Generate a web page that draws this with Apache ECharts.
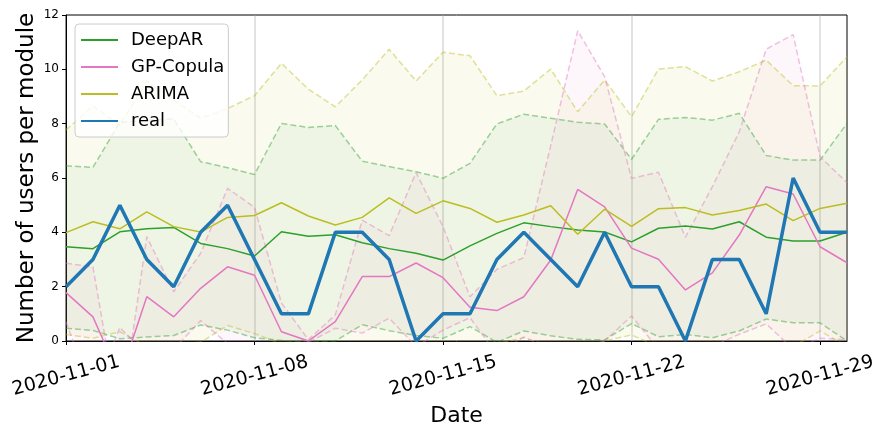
<!DOCTYPE html>
<html>
<head>
<meta charset="utf-8">
<script src="https://cdn.jsdelivr.net/npm/echarts@6/dist/echarts.min.js"></script>
<style>
  html, body { margin: 0; padding: 0; background: #fff; }
  #chart { width: 885px; height: 432px; }
</style>
</head>
<body>
<div id="chart"></div>
<script>
// 日期（x轴类目）
const days = [
  '2020-11-01', '2020-11-02', '2020-11-03', '2020-11-04', '2020-11-05', '2020-11-06',
  '2020-11-07', '2020-11-08', '2020-11-09', '2020-11-10', '2020-11-11', '2020-11-12',
  '2020-11-13', '2020-11-14', '2020-11-15', '2020-11-16', '2020-11-17', '2020-11-18',
  '2020-11-19', '2020-11-20', '2020-11-21', '2020-11-22', '2020-11-23', '2020-11-24',
  '2020-11-25', '2020-11-26', '2020-11-27', '2020-11-28', '2020-11-29', '2020-11-30'
];

// 真实值
const real = [2, 3, 5, 3, 2, 4, 5, 3, 1, 1, 4, 4, 3, 0, 1, 1, 3, 4, 3, 2, 4, 2, 2, 0, 3, 3, 1, 6, 4, 4];

// DeepAR 预测 + 上下界
const deepar = [3.47, 3.40, 4.02, 4.13, 4.18, 3.59, 3.40, 3.13, 4.02, 3.86, 3.91, 3.62, 3.40, 3.23, 2.98,
  3.50, 3.96, 4.35, 4.21, 4.09, 4.01, 3.65, 4.15, 4.23, 4.12, 4.39, 3.82, 3.68, 3.68, 4.00];
const deeparUpper = [6.45, 6.39, 8.05, 8.13, 8.17, 6.60, 6.38, 6.13, 8.01, 7.86, 7.93, 6.62, 6.42, 6.23, 5.99,
  6.54, 7.99, 8.35, 8.20, 8.05, 7.99, 6.69, 8.16, 8.23, 8.13, 8.38, 6.83, 6.66, 6.66, 8.01];
const deeparLower = [0.47, 0.39, 0.08, 0.15, 0.20, 0.59, 0.40, 0.12, 0.02, -0.05, 0.00, 0.60, 0.38, 0.20, 0.10,
  0.53, -0.05, 0.37, 0.19, 0.06, 0.04, 0.64, 0.16, 0.24, 0.12, 0.37, 0.81, 0.67, 0.67, 0.00];

// GP-Copula 预测 + 上下界
const gp = [1.78, 0.89, -1.35, 1.63, 0.89, 1.94, 2.73, 2.42, 0.34, 0.00, 0.71, 2.37, 2.37, 2.87, 2.33,
  1.24, 1.12, 1.63, 2.98, 5.58, 4.94, 3.42, 3.01, 1.88, 2.51, 3.90, 5.68, 5.41, 3.47, 2.88];
const gpUpper = [2.86, 2.73, -3.00, 3.84, 1.81, 3.23, 5.62, 4.92, 1.40, 0.05, 0.96, 4.45, 3.88, 6.20, 4.21,
  1.63, 2.64, 3.07, 7.20, 11.42, 9.73, 5.99, 6.21, 3.82, 5.68, 7.70, 10.74, 11.28, 6.78, 5.83];
const gpLower = [0.70, -2.00, 0.50, -0.50, -0.30, 0.75, -0.10, -0.50, -0.50, -0.05, 0.47, 0.29, 0.84, -0.20, 0.40,
  0.86, -0.50, 0.15, -0.30, -0.50, 0.00, 0.92, -0.30, -0.50, -0.20, 0.25, 0.63, -0.30, 0.10, 0.05];

// ARIMA 预测 + 上下界
const arima = [3.99, 4.39, 4.13, 4.75, 4.21, 4.01, 4.55, 4.62, 5.09, 4.60, 4.27, 4.55, 5.27, 4.70, 5.16,
  4.88, 4.37, 4.64, 4.98, 3.93, 4.85, 4.22, 4.87, 4.91, 4.64, 4.80, 5.04, 4.43, 4.88, 5.07];
const arimaUpper = [7.77, 8.65, 7.95, 9.57, 8.87, 8.20, 8.56, 9.03, 10.22, 9.27, 8.62, 9.61, 10.74, 9.57, 10.63,
  10.50, 9.03, 9.20, 10.01, 8.44, 9.61, 8.26, 10.01, 10.10, 9.57, 9.91, 10.34, 9.40, 9.39, 10.46];
const arimaLower = [0.24, 0.10, 0.34, -0.20, -0.10, -0.05, 0.57, 0.27, -0.10, -0.30, -0.30, -0.30, -0.30, -0.30, -0.30,
  -0.30, -0.10, 0.12, -0.20, -0.30, 0.00, 0.22, -0.20, -0.30, -0.30, -0.30, -0.20, -0.20, 0.37, -0.20];

const FONT = 'DejaVu Sans';

// 置信区间：下界透明 + (上界-下界) 堆叠填充
function band(key, lower, upper, fill) {
  return [
    {
      name: key + '-base', type: 'line', stack: key, stackStrategy: 'all',
      data: lower, symbol: 'none', silent: true, z: 1,
      lineStyle: { opacity: 0 }
    },
    {
      name: key + '-band', type: 'line', stack: key, stackStrategy: 'all',
      data: upper.map((u, i) => +(u - lower[i]).toFixed(3)), symbol: 'none', silent: true, z: 1,
      lineStyle: { opacity: 0 },
      areaStyle: { color: fill, opacity: 1 }
    }
  ];
}

// 虚线上下界
function dashed(key, vals, color) {
  return {
    name: key, type: 'line', data: vals, symbol: 'none', silent: true, z: 2,
    lineStyle: { color: color, width: 1.5, type: [6, 3] }
  };
}

function mainLine(name, vals, color, width, z) {
  return {
    name: name, type: 'line', data: vals, symbol: 'none', z: z,
    itemStyle: { color: color },
    lineStyle: { color: color, width: width }
  };
}

const chart = echarts.init(document.getElementById('chart'));
chart.setOption({
  animation: false,
  textStyle: { fontFamily: FONT },
  grid: {
    left: 66, right: 38, top: 15, bottom: 91,
    show: true, borderColor: '#000', borderWidth: 1, backgroundColor: 'transparent'
  },
  legend: {
    data: ['DeepAR', 'GP-Copula', 'ARIMA', 'real'],
    orient: 'vertical',
    left: 75, top: 24,
    padding: [7, 4, 7, 5],
    itemWidth: 37, itemHeight: 14, itemGap: 9,
    itemStyle: { opacity: 0 },
    backgroundColor: 'rgba(255,255,255,0.8)',
    borderColor: '#ccc', borderWidth: 1, borderRadius: 4,
    textStyle: { fontSize: 18, color: '#000', fontFamily: FONT, padding: [0, 0, 0, 8] }
  },
  xAxis: {
    type: 'category',
    data: days,
    boundaryGap: false,
    name: 'Date',
    nameLocation: 'middle',
    nameGap: 64,
    nameMoveOverlap: false,
    nameTextStyle: { fontSize: 22, color: '#000', fontFamily: FONT },
    axisLine: { show: true, lineStyle: { color: '#000', width: 1 } },
    axisTick: { show: true, interval: 6, length: 4, lineStyle: { color: '#000' } },
    axisLabel: {
      interval: 6, rotate: 15, fontSize: 19, color: '#000', fontFamily: FONT,
      align: 'center', verticalAlign: 'middle', margin: 35
    },
    splitLine: { show: true, interval: 6, lineStyle: { color: 'rgba(170,170,170,0.45)', width: 1.5 } }
  },
  yAxis: {
    type: 'value',
    min: 0, max: 12, interval: 2,
    name: 'Number of users per module',
    nameLocation: 'middle',
    nameGap: 27,
    nameMoveOverlap: false,
    nameTextStyle: { fontSize: 23, color: '#000', fontFamily: FONT },
    axisLine: { show: true, lineStyle: { color: '#000', width: 1 } },
    axisTick: { show: true, length: 4, lineStyle: { color: '#000' } },
    axisLabel: { fontSize: 12, color: '#000', margin: 7, fontFamily: FONT },
    splitLine: { show: false }
  },
  series: [
    ...band('arima', arimaLower, arimaUpper, 'rgba(188,189,34,0.07)'),
    ...band('deepar', deeparLower, deeparUpper, 'rgba(44,160,44,0.06)'),
    ...band('gp', gpLower, gpUpper, 'rgba(227,119,194,0.06)'),
    dashed('arima-up', arimaUpper, 'rgba(188,189,34,0.45)'),
    dashed('arima-lo', arimaLower, 'rgba(188,189,34,0.45)'),
    dashed('deepar-up', deeparUpper, 'rgba(44,160,44,0.45)'),
    dashed('deepar-lo', deeparLower, 'rgba(44,160,44,0.45)'),
    dashed('gp-up', gpUpper, 'rgba(227,119,194,0.45)'),
    dashed('gp-lo', gpLower, 'rgba(227,119,194,0.45)'),
    mainLine('DeepAR', deepar, '#2ca02c', 1.5, 3),
    mainLine('GP-Copula', gp, '#e377c2', 1.5, 3),
    mainLine('ARIMA', arima, '#bcbd22', 1.5, 3),
    mainLine('real', real, '#1f77b4', 3.5, 4)
  ]
});
</script>
</body>
</html>
